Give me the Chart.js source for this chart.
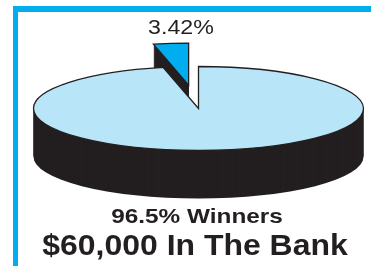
<!DOCTYPE html>
<html><head><meta charset="utf-8">
<script src="https://cdn.jsdelivr.net/npm/chart.js@4"></script>
<style>
html,body{margin:0;padding:0;background:#fff;overflow:hidden}
#wrap{position:relative;width:371px;height:266px;overflow:hidden}
#fl{position:absolute;left:13px;top:6px;width:5px;height:270px;background:#00aeef}
#ft{position:absolute;left:13px;top:6px;width:370px;height:6px;background:#00aeef}
canvas{position:absolute;left:0;top:0}
.t{position:absolute;white-space:nowrap;color:#231f20;font-family:"Liberation Sans",Arial,Helvetica,sans-serif;line-height:1}
</style></head><body>
<div id="wrap">
<div id="fl"></div><div id="ft"></div>
<canvas id="c" width="371" height="266"></canvas>
<div class="t" id="l0"></div>
<div class="t" id="l1"></div>
<div class="t" id="l2"></div>
</div>
<script>
// ---- data ----
const categories = ['Losers', 'Winners'];
const values = [3.42, 96.5];
const sliceLabels = ['3.42%', '96.5% Winners'];
const headline = ['$60,000 In The Bank'];
const colors = ['#00aeef', '#b9e5f9'];

// ---- styling constants ----
const SCREEN_CX = 198.5, SCREEN_CY = 108.5;
const TILT = 42 / 165;
const DEPTH = 48;
const EXPLODE = 92;
const SIDE = '#231f20';

const total = values.reduce((a, b) => a + b, 0);

const tilt3d = {
  id: 'tilt3d',
  afterDatasetsUpdate(chart) {
    const els = chart.getDatasetMeta(0).data;
    const el = els[0];
    const mid = (el.startAngle + el.endAngle) / 2;
    el.x += Math.cos(mid) * EXPLODE;
    el.y += Math.sin(mid) * EXPLODE;
  },
  beforeDatasetsDraw(chart) {
    const ctx = chart.ctx;
    const els = chart.getDatasetMeta(0).data;
    const c = els[1];
    ctx.save();
    ctx.translate(SCREEN_CX, SCREEN_CY);
    ctx.scale(1, TILT);
    ctx.translate(-c.x, -c.y);
    ctx.fillStyle = SIDE;
    els.forEach(el => {
      for (let t = DEPTH; t >= 1; t -= 1) {
        const yy = el.y + t / TILT;
        ctx.beginPath();
        ctx.moveTo(el.x, yy);
        ctx.arc(el.x, yy, el.outerRadius, el.startAngle, el.endAngle);
        ctx.closePath();
        ctx.fill();
      }
    });
  },
  afterDatasetsDraw(chart) {
    const ctx = chart.ctx;
    const els = chart.getDatasetMeta(0).data;
    ctx.beginPath();
    els.forEach(el => {
      ctx.moveTo(el.x, el.y);
      ctx.arc(el.x, el.y, el.outerRadius, el.startAngle, el.endAngle);
      ctx.closePath();
    });
    ctx.restore();
    ctx.strokeStyle = SIDE;
    ctx.lineWidth = 1.3;
    ctx.lineJoin = 'miter';
    ctx.stroke();
  }
};

new Chart(document.getElementById('c'), {
  type: 'pie',
  data: {
    labels: categories,
    datasets: [{
      data: values,
      backgroundColor: colors,
      borderWidth: 0,
      radius: 165,
      rotation: -360 * values[0] / total,
      clip: false
    }]
  },
  options: {
    responsive: false,
    devicePixelRatio: 1,
    animation: false,
    events: [],
    layout: { padding: 0 },
    plugins: { legend: { display: false }, tooltip: { enabled: false }, title: { display: false } }
  },
  plugins: [tilt3d]
});

function place(id, text, cx, baseline, fs, bold, sx) {
  const d = document.getElementById(id);
  d.textContent = text;
  d.style.fontSize = fs + 'px';
  d.style.fontWeight = bold ? 'bold' : 'normal';
  d.style.left = cx + 'px';
  d.style.top = (baseline - 0.8465 * fs) + 'px';
  d.style.transform = 'translateX(-50%) scaleX(' + sx + ')';
}
place('l0', sliceLabels[0], 181, 35, 19.5, false, 1.19);
place('l1', sliceLabels[1], 196.7, 223, 21, true, 1.16);
place('l2', headline[0], 195, 255.3, 30, true, 1.065);
</script>
</body></html>
